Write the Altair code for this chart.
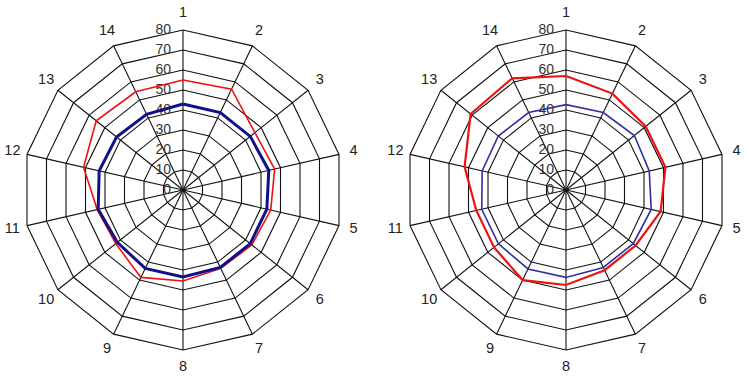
import altair as alt
import pandas as pd

# ---- data ----
spoke_labels = [str(i) for i in range(1, 15)]
ring_levels = [10, 20, 30, 40, 50, 60, 70, 80]
tick_values = [0, 10, 20, 30, 40, 50, 60, 70, 80]
tick_labels = ["0", "10", "20", "30", "40", "50", "60", "70", "80"]

left_red = [55, 56, 46, 47, 45, 44, 43.5, 45.5, 48.5, 43, 44, 51, 55.5, 54.5]
left_blue = [43, 43, 43, 44, 43, 43, 43, 43.5, 43.5, 42, 43.5, 43, 42.5, 42]
right_red = [57, 53.5, 51, 51, 48.5, 44.5, 44.5, 47.5, 50, 46, 46, 52, 61, 62]
right_blue = [42.7, 43, 43.7, 42.7, 43.7, 43, 43, 43.7, 43.8, 43.2, 43.2, 43, 43.3, 43]

N = len(spoke_labels)
RMAX = 80
LABEL_R = 87.5

XS = alt.Scale(domain=[-91.5, 91.5], nice=False, zero=False)
YS = alt.Scale(domain=[-93, 95], nice=False, zero=False)
ANG = "2*PI*datum.k/14"
FONT = "Liberation Sans"


def series_df(vals):
    return pd.DataFrame({"k": list(range(N + 1)),
                         "value": [vals[k % N] for k in range(N + 1)]})


def panel(red_vals, blue_vals, blue_w, red_w, blue_color, red_on_top):
    rings = pd.DataFrame([{"level": lv, "k": k} for lv in ring_levels for k in range(N + 1)])
    spokes = pd.DataFrame({"k": list(range(N)), "label": spoke_labels})
    ticks = pd.DataFrame({"v": tick_values, "t": tick_labels})

    ring_layer = alt.Chart(rings).transform_calculate(
        x=f"datum.level*sin({ANG})", y=f"datum.level*cos({ANG})"
    ).mark_line(color="#111111", strokeWidth=1.1).encode(
        x=alt.X("x:Q", scale=XS, axis=None),
        y=alt.Y("y:Q", scale=YS, axis=None),
        detail="level:N", order="k:Q")

    spoke_layer = alt.Chart(spokes).transform_calculate(
        x0="0", y0="0",
        x2=f"{RMAX}*sin({ANG})", y2=f"{RMAX}*cos({ANG})"
    ).mark_rule(color="#111111", strokeWidth=1.1).encode(
        x=alt.X("x0:Q", scale=XS, axis=None),
        y=alt.Y("y0:Q", scale=YS, axis=None),
        x2="x2:Q", y2="y2:Q")

    label_layer = alt.Chart(spokes).transform_calculate(
        x=f"{LABEL_R}*sin({ANG})", y=f"{LABEL_R + 1}*cos({ANG})"
    ).mark_text(font=FONT, fontSize=14.5, color="#222222", align="center",
                baseline="middle").encode(
        x=alt.X("x:Q", scale=XS, axis=None),
        y=alt.Y("y:Q", scale=YS, axis=None),
        text="label:N")

    tick_layer = alt.Chart(ticks).transform_calculate(
        x="-6"
    ).mark_text(font=FONT, fontSize=14, color="#333333", align="right",
                baseline="middle").encode(
        x=alt.X("x:Q", scale=XS, axis=None),
        y=alt.Y("v:Q", scale=YS, axis=None),
        text="t:N")

    def line(vals, color, w):
        return alt.Chart(series_df(vals)).transform_calculate(
            x=f"datum.value*sin({ANG})", y=f"datum.value*cos({ANG})"
        ).mark_line(color=color, strokeWidth=w).encode(
            x=alt.X("x:Q", scale=XS, axis=None),
            y=alt.Y("y:Q", scale=YS, axis=None),
            order="k:Q")

    red = line(red_vals, "#ee1111", red_w)
    blue = line(blue_vals, blue_color, blue_w)
    series = [blue, red] if red_on_top else [red, blue]
    return alt.layer(ring_layer, spoke_layer, tick_layer, label_layer, *series).properties(
        width=366, height=376)


left = panel(left_red, left_blue, 3, 1.6, "#10108a", red_on_top=False)
right = panel(right_red, right_blue, 1.6, 2.2, "#3030a0", red_on_top=True)

chart = alt.hconcat(left, right, spacing=17).properties(padding=0).configure_view(
    stroke=None)

chart.save("out.html", embed_options={"renderer": "svg", "actions": False})
